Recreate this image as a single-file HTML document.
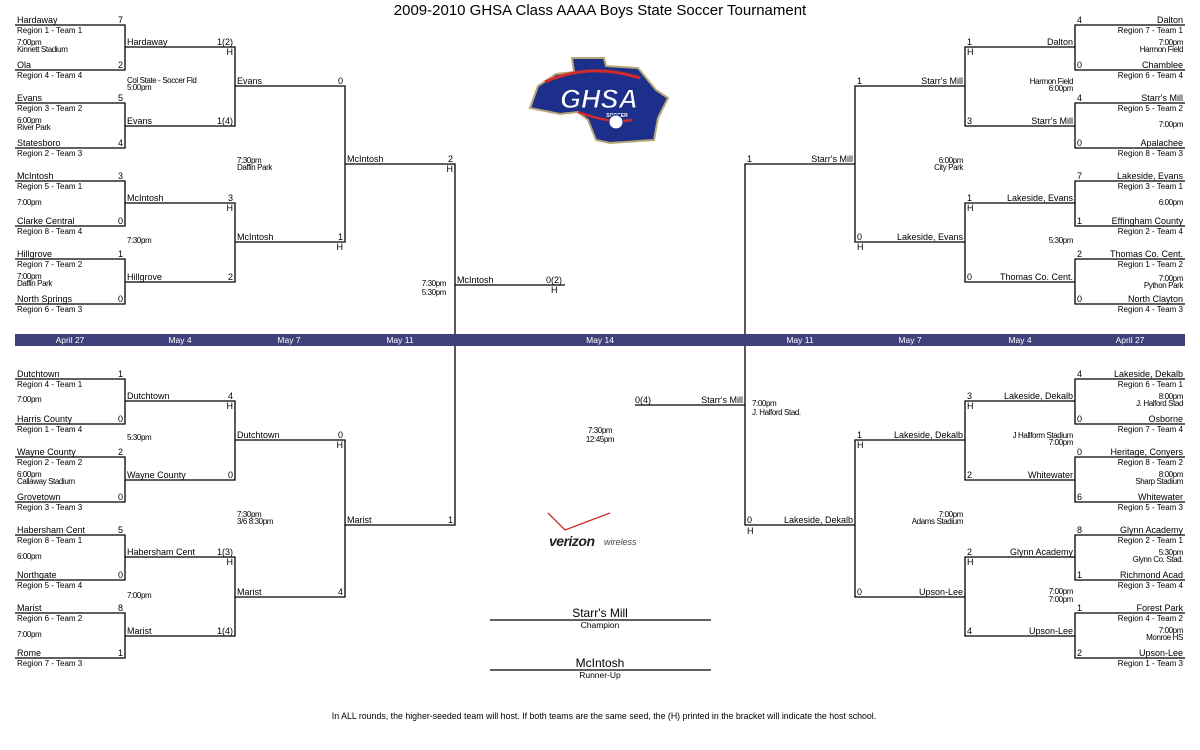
<!DOCTYPE html>
<html><head><meta charset="utf-8"><style>
html,body{margin:0;padding:0;background:#fff;}
svg{display:block;font-family:"Liberation Sans",sans-serif;}
.n{font-size:9px;}
.r{font-size:8px;}
.t{font-size:8px;letter-spacing:-0.4px;}
.e{text-anchor:end;}
.m{text-anchor:middle;}
.d{font-size:8.5px;fill:#fff;text-anchor:middle;}
</style></head><body>
<svg width="1200" height="750" viewBox="0 0 1200 750">
<text x="600" y="15" class="m" font-size="15">2009-2010 GHSA Class AAAA Boys State Soccer Tournament</text>
<g fill="none" stroke="#000" stroke-width="1.3">
<polyline points="15,25 125,25 125,70 15,70"/>
<polyline points="15,103 125,103 125,148 15,148"/>
<polyline points="15,181 125,181 125,226 15,226"/>
<polyline points="15,259 125,259 125,304 15,304"/>
<polyline points="15,379 125,379 125,424 15,424"/>
<polyline points="15,457 125,457 125,502 15,502"/>
<polyline points="15,535 125,535 125,580 15,580"/>
<polyline points="15,613 125,613 125,658 15,658"/>
<polyline points="125,47 235,47 235,126 125,126"/>
<polyline points="125,203 235,203 235,282 125,282"/>
<polyline points="125,401 235,401 235,480 125,480"/>
<polyline points="125,557 235,557 235,636 125,636"/>
<polyline points="235,86 345,86 345,242 235,242"/>
<polyline points="235,440 345,440 345,597 235,597"/>
<polyline points="345,164 455,164 455,525 345,525"/>
<line x1="455" y1="285" x2="565" y2="285"/>
<polyline points="1185,25 1075,25 1075,70 1185,70"/>
<polyline points="1185,103 1075,103 1075,148 1185,148"/>
<polyline points="1185,181 1075,181 1075,226 1185,226"/>
<polyline points="1185,259 1075,259 1075,304 1185,304"/>
<polyline points="1185,379 1075,379 1075,424 1185,424"/>
<polyline points="1185,457 1075,457 1075,502 1185,502"/>
<polyline points="1185,535 1075,535 1075,580 1185,580"/>
<polyline points="1185,613 1075,613 1075,658 1185,658"/>
<polyline points="1075,47 965,47 965,126 1075,126"/>
<polyline points="1075,203 965,203 965,282 1075,282"/>
<polyline points="1075,401 965,401 965,480 1075,480"/>
<polyline points="1075,557 965,557 965,636 1075,636"/>
<polyline points="965,86 855,86 855,242 965,242"/>
<polyline points="965,440 855,440 855,597 965,597"/>
<polyline points="855,164 745,164 745,525 855,525"/>
<line x1="635" y1="405" x2="745" y2="405"/>
<line x1="490" y1="620" x2="711" y2="620"/>
<line x1="490" y1="670" x2="711" y2="670"/>
</g>
<rect x="15" y="334" width="1170" height="12" fill="#40407a"/>
<text class="d" x="70" y="343">April 27</text>
<text class="d" x="180" y="343">May 4</text>
<text class="d" x="289" y="343">May 7</text>
<text class="d" x="400" y="343">May 11</text>
<text class="d" x="600" y="343">May 14</text>
<text class="d" x="800" y="343">May 11</text>
<text class="d" x="910" y="343">May 7</text>
<text class="d" x="1020" y="343">May 4</text>
<text class="d" x="1130" y="343">April 27</text>

<g>
<text class="n" x="17" y="23">Hardaway</text><text class="n e" x="123" y="23">7</text>
<text class="r" x="17" y="33">Region 1 - Team 1</text>
<text class="t" x="17" y="45">7:00pm</text><text class="t" x="17" y="52">Kinnett Stadium</text>
<text class="n" x="17" y="68">Ola</text><text class="n e" x="123" y="68">2</text>
<text class="r" x="17" y="78">Region 4 - Team 4</text>

<text class="n" x="17" y="101">Evans</text><text class="n e" x="123" y="101">5</text>
<text class="r" x="17" y="111">Region 3 - Team 2</text>
<text class="t" x="17" y="123">6:00pm</text><text class="t" x="17" y="130">River Park</text>
<text class="n" x="17" y="146">Statesboro</text><text class="n e" x="123" y="146">4</text>
<text class="r" x="17" y="156">Region 2 - Team 3</text>

<text class="n" x="17" y="179">McIntosh</text><text class="n e" x="123" y="179">3</text>
<text class="r" x="17" y="189">Region 5 - Team 1</text>
<text class="t" x="17" y="205">7:00pm</text>
<text class="n" x="17" y="224">Clarke Central</text><text class="n e" x="123" y="224">0</text>
<text class="r" x="17" y="234">Region 8 - Team 4</text>

<text class="n" x="17" y="257">Hillgrove</text><text class="n e" x="123" y="257">1</text>
<text class="r" x="17" y="267">Region 7 - Team 2</text>
<text class="t" x="17" y="279">7:00pm</text><text class="t" x="17" y="286">Daffin Park</text>
<text class="n" x="17" y="302">North Springs</text><text class="n e" x="123" y="302">0</text>
<text class="r" x="17" y="312">Region 6 - Team 3</text>

<text class="n" x="17" y="377">Dutchtown</text><text class="n e" x="123" y="377">1</text>
<text class="r" x="17" y="387">Region 4 - Team 1</text>
<text class="t" x="17" y="402">7:00pm</text>
<text class="n" x="17" y="422">Harris County</text><text class="n e" x="123" y="422">0</text>
<text class="r" x="17" y="432">Region 1 - Team 4</text>

<text class="n" x="17" y="455">Wayne County</text><text class="n e" x="123" y="455">2</text>
<text class="r" x="17" y="465">Region 2 - Team 2</text>
<text class="t" x="17" y="477">6:00pm</text><text class="t" x="17" y="484">Callaway Stadium</text>
<text class="n" x="17" y="500">Grovetown</text><text class="n e" x="123" y="500">0</text>
<text class="r" x="17" y="510">Region 3 - Team 3</text>

<text class="n" x="17" y="533">Habersham Cent</text><text class="n e" x="123" y="533">5</text>
<text class="r" x="17" y="543">Region 8 - Team 1</text>
<text class="t" x="17" y="559">6:00pm</text>
<text class="n" x="17" y="578">Northgate</text><text class="n e" x="123" y="578">0</text>
<text class="r" x="17" y="588">Region 5 - Team 4</text>

<text class="n" x="17" y="611">Marist</text><text class="n e" x="123" y="611">8</text>
<text class="r" x="17" y="621">Region 6 - Team 2</text>
<text class="t" x="17" y="637">7:00pm</text>
<text class="n" x="17" y="656">Rome</text><text class="n e" x="123" y="656">1</text>
<text class="r" x="17" y="666">Region 7 - Team 3</text>
</g>

<g>
<text class="n" x="127" y="45">Hardaway</text><text class="n e" x="233" y="45">1(2)</text><text class="n e" x="233" y="55">H</text>
<text class="t" x="127" y="83">Col State - Soccer Fld</text><text class="t" x="127" y="90">5:00pm</text>
<text class="n" x="127" y="124">Evans</text><text class="n e" x="233" y="124">1(4)</text>
<text class="n" x="127" y="201">McIntosh</text><text class="n e" x="233" y="201">3</text><text class="n e" x="233" y="211">H</text>
<text class="t" x="127" y="243">7:30pm</text>
<text class="n" x="127" y="280">Hillgrove</text><text class="n e" x="233" y="280">2</text>
<text class="n" x="127" y="399">Dutchtown</text><text class="n e" x="233" y="399">4</text><text class="n e" x="233" y="409">H</text>
<text class="t" x="127" y="440">5:30pm</text>
<text class="n" x="127" y="478">Wayne County</text><text class="n e" x="233" y="478">0</text>
<text class="n" x="127" y="555">Habersham Cent</text><text class="n e" x="233" y="555">1(3)</text><text class="n e" x="233" y="565">H</text>
<text class="t" x="127" y="598">7:00pm</text>
<text class="n" x="127" y="634">Marist</text><text class="n e" x="233" y="634">1(4)</text>
</g>
<g>
<text class="n" x="237" y="84">Evans</text><text class="n e" x="343" y="84">0</text>
<text class="t" x="237" y="163">7:30pm</text><text class="t" x="237" y="170">Daffin Park</text>
<text class="n" x="237" y="240">McIntosh</text><text class="n e" x="343" y="240">1</text><text class="n e" x="343" y="250">H</text>
<text class="n" x="237" y="438">Dutchtown</text><text class="n e" x="343" y="438">0</text><text class="n e" x="343" y="448">H</text>
<text class="t" x="237" y="517">7:30pm</text><text class="t" x="237" y="524">3/6 8:30pm</text>
<text class="n" x="237" y="595">Marist</text><text class="n e" x="343" y="595">4</text>
</g>
<g>
<text class="n" x="347" y="162">McIntosh</text><text class="n e" x="453" y="162">2</text><text class="n e" x="453" y="172">H</text>
<text class="n" x="347" y="523">Marist</text><text class="n e" x="453" y="523">1</text>
<text class="n" x="457" y="283">McIntosh</text><text class="n" x="546" y="283">0(2)</text><text class="n" x="551" y="293">H</text>
<text class="t e" x="446" y="286">7:30pm</text><text class="t e" x="446" y="295">5:30pm</text>
</g>

<g>
<text class="n e" x="1183" y="23">Dalton</text><text class="n" x="1077" y="23">4</text>
<text class="r e" x="1183" y="33">Region 7 - Team 1</text>
<text class="t e" x="1183" y="45">7:00pm</text><text class="t e" x="1183" y="52">Harmon Field</text>
<text class="n e" x="1183" y="68">Chamblee</text><text class="n" x="1077" y="68">0</text>
<text class="r e" x="1183" y="78">Region 6 - Team 4</text>

<text class="n e" x="1183" y="101">Starr's Mill</text><text class="n" x="1077" y="101">4</text>
<text class="r e" x="1183" y="111">Region 5 - Team 2</text>
<text class="t e" x="1183" y="127">7:00pm</text>
<text class="n e" x="1183" y="146">Apalachee</text><text class="n" x="1077" y="146">0</text>
<text class="r e" x="1183" y="156">Region 8 - Team 3</text>

<text class="n e" x="1183" y="179">Lakeside, Evans</text><text class="n" x="1077" y="179">7</text>
<text class="r e" x="1183" y="189">Region 3 - Team 1</text>
<text class="t e" x="1183" y="205">6:00pm</text>
<text class="n e" x="1183" y="224">Effingham County</text><text class="n" x="1077" y="224">1</text>
<text class="r e" x="1183" y="234">Region 2 - Team 4</text>

<text class="n e" x="1183" y="257">Thomas Co. Cent.</text><text class="n" x="1077" y="257">2</text>
<text class="r e" x="1183" y="267">Region 1 - Team 2</text>
<text class="t e" x="1183" y="281">7:00pm</text><text class="t e" x="1183" y="288">Python Park</text>
<text class="n e" x="1183" y="302">North Clayton</text><text class="n" x="1077" y="302">0</text>
<text class="r e" x="1183" y="312">Region 4 - Team 3</text>

<text class="n e" x="1183" y="377">Lakeside, Dekalb</text><text class="n" x="1077" y="377">4</text>
<text class="r e" x="1183" y="387">Region 6 - Team 1</text>
<text class="t e" x="1183" y="399">8:00pm</text><text class="t e" x="1183" y="406">J. Halford Stad</text>
<text class="n e" x="1183" y="422">Osborne</text><text class="n" x="1077" y="422">0</text>
<text class="r e" x="1183" y="432">Region 7 - Team 4</text>

<text class="n e" x="1183" y="455">Heritage, Conyers</text><text class="n" x="1077" y="455">0</text>
<text class="r e" x="1183" y="465">Region 8 - Team 2</text>
<text class="t e" x="1183" y="477">8:00pm</text><text class="t e" x="1183" y="484">Sharp Stadium</text>
<text class="n e" x="1183" y="500">Whitewater</text><text class="n" x="1077" y="500">6</text>
<text class="r e" x="1183" y="510">Region 5 - Team 3</text>

<text class="n e" x="1183" y="533">Glynn Academy</text><text class="n" x="1077" y="533">8</text>
<text class="r e" x="1183" y="543">Region 2 - Team 1</text>
<text class="t e" x="1183" y="555">5:30pm</text><text class="t e" x="1183" y="562">Glynn Co. Stad.</text>
<text class="n e" x="1183" y="578">Richmond Acad</text><text class="n" x="1077" y="578">1</text>
<text class="r e" x="1183" y="588">Region 3 - Team 4</text>

<text class="n e" x="1183" y="611">Forest Park</text><text class="n" x="1077" y="611">1</text>
<text class="r e" x="1183" y="621">Region 4 - Team 2</text>
<text class="t e" x="1183" y="633">7:00pm</text><text class="t e" x="1183" y="640">Monroe HS</text>
<text class="n e" x="1183" y="656">Upson-Lee</text><text class="n" x="1077" y="656">2</text>
<text class="r e" x="1183" y="666">Region 1 - Team 3</text>
</g>
<g>
<text class="n e" x="1073" y="45">Dalton</text><text class="n" x="967" y="45">1</text><text class="n" x="967" y="55">H</text>
<text class="t e" x="1073" y="84">Harmon Field</text><text class="t e" x="1073" y="91">6:00pm</text>
<text class="n e" x="1073" y="124">Starr's Mill</text><text class="n" x="967" y="124">3</text>
<text class="n e" x="1073" y="201">Lakeside, Evans</text><text class="n" x="967" y="201">1</text><text class="n" x="967" y="211">H</text>
<text class="t e" x="1073" y="243">5:30pm</text>
<text class="n e" x="1073" y="280">Thomas Co. Cent.</text><text class="n" x="967" y="280">0</text>
<text class="n e" x="1073" y="399">Lakeside, Dekalb</text><text class="n" x="967" y="399">3</text><text class="n" x="967" y="409">H</text>
<text class="t e" x="1073" y="438">J Hallform Stadium</text><text class="t e" x="1073" y="445">7:00pm</text>
<text class="n e" x="1073" y="478">Whitewater</text><text class="n" x="967" y="478">2</text>
<text class="n e" x="1073" y="555">Glynn Academy</text><text class="n" x="967" y="555">2</text><text class="n" x="967" y="565">H</text>
<text class="t e" x="1073" y="594">7:00pm</text><text class="t e" x="1073" y="602">7:00pm</text>
<text class="n e" x="1073" y="634">Upson-Lee</text><text class="n" x="967" y="634">4</text>
</g>
<g>
<text class="n e" x="963" y="84">Starr's Mill</text><text class="n" x="857" y="84">1</text>
<text class="t e" x="963" y="163">6:00pm</text><text class="t e" x="963" y="170">City Park</text>
<text class="n e" x="963" y="240">Lakeside, Evans</text><text class="n" x="857" y="240">0</text><text class="n" x="857" y="250">H</text>
<text class="n e" x="963" y="438">Lakeside, Dekalb</text><text class="n" x="857" y="438">1</text><text class="n" x="857" y="448">H</text>
<text class="t e" x="963" y="517">7:00pm</text><text class="t e" x="963" y="524">Adams Stadium</text>
<text class="n e" x="963" y="595">Upson-Lee</text><text class="n" x="857" y="595">0</text>
</g>
<g>
<text class="n e" x="853" y="162">Starr's Mill</text><text class="n" x="747" y="162">1</text>
<text class="n e" x="853" y="523">Lakeside, Dekalb</text><text class="n" x="747" y="523">0</text><text class="n" x="747" y="534">H</text>
<text class="n e" x="743" y="403">Starr's Mill</text><text class="n" x="635" y="403">0(4)</text>
<text class="t" x="752" y="406">7:00pm</text><text class="t" x="752" y="415">J. Halford Stad.</text>
<text class="t m" x="600" y="433">7:30pm</text><text class="t m" x="600" y="442">12:45pm</text>
</g>

<text class="m" x="600" y="617" font-size="12">Starr's Mill</text>
<text class="m" x="600" y="628" font-size="8.5">Champion</text>
<text class="m" x="600" y="667" font-size="12">McIntosh</text>
<text class="m" x="600" y="678" font-size="8.5">Runner-Up</text>

<g>
<path d="M572,58 L604,58 L606,66 L638,68 L656,90 L668,98 L658,118 L654,140 L610,143 L596,140 L588,120 L578,112 L560,114 L530,108 L538,86 L556,74 L574,72 Z" fill="#1c2f8a" stroke="#b8a878" stroke-width="2"/>
<path d="M545,82 Q590,62 640,78" fill="none" stroke="#d42a2a" stroke-width="3"/>
<path d="M578,112 Q610,124 632,120" fill="none" stroke="#d42a2a" stroke-width="2.5"/>
<text x="599" y="108" text-anchor="middle" font-size="27" font-weight="bold" font-style="italic" fill="#fff" stroke="#1c2f8a" stroke-width="1">GHSA</text>
<text x="617" y="117" text-anchor="middle" font-size="5" font-weight="bold" fill="#fff">SOCCER</text>
<circle cx="616" cy="122" r="7" fill="#fff" stroke="#1c2f8a" stroke-width="1"/>
</g>
<g>
<path d="M548,513 L565,530 L610,513" fill="none" stroke="#cc2a2a" stroke-width="1.3"/>
<text x="549" y="546" font-size="14" font-weight="bold" font-style="italic" fill="#222" letter-spacing="-0.5">verizon</text>
<text x="604" y="545" font-size="9" font-style="italic" fill="#444">wireless</text>
</g>

<text class="m" x="604" y="719" font-size="8.8">In ALL rounds, the higher-seeded team will host.  If both teams are the same seed, the (H) printed in the bracket will indicate the host school.</text>
</svg>
</body></html>
